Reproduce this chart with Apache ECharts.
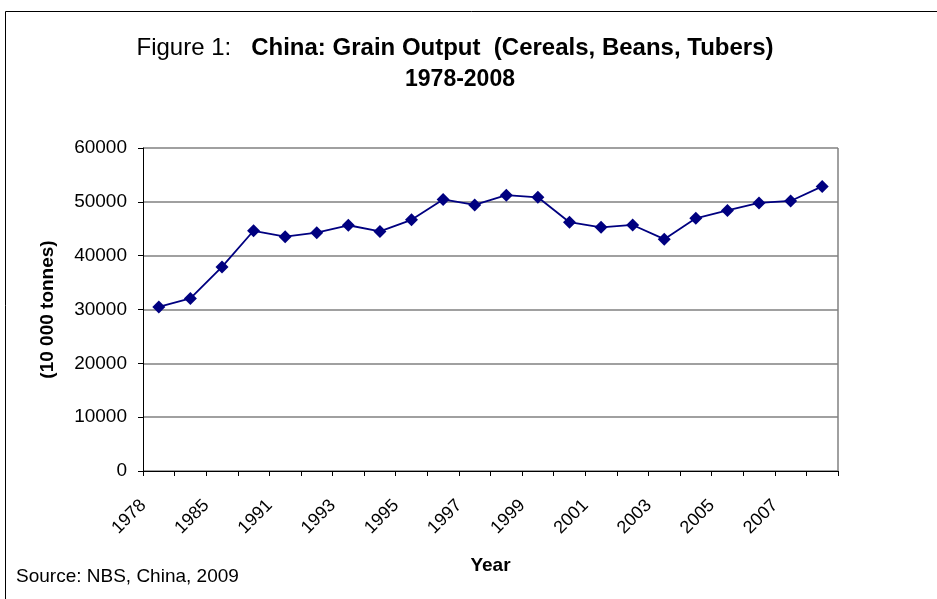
<!DOCTYPE html>
<html>
<head>
<meta charset="utf-8">
<script src="https://cdn.jsdelivr.net/npm/echarts@6/dist/echarts.min.js"></script>
<style>
  html, body { margin: 0; padding: 0; background: #fff; }
  #chart { width: 937px; height: 599px; }
</style>
</head>
<body>
<div id="chart"></div>
<script>
// years shown on the axis (every other one labelled)
var years = ['1978', '1980', '1985', '1990', '1991', '1992', '1993', '1994', '1995', '1996', '1997',
    '1998', '1999', '2000', '2001', '2002', '2003', '2004', '2005', '2006', '2007', '2008'];
// grain output, 10 000 tonnes
var output = [30477, 32056, 37911, 44624, 43529, 44266, 45649, 44510, 46662, 50454, 49417,
    51230, 50839, 46218, 45264, 45706, 43070, 46947, 48402, 49804, 50160, 52871];

var font = 'Liberation Sans, Arial, sans-serif';
var chart = echarts.init(document.getElementById('chart'));

var option = {
    backgroundColor: '#fff',
    animation: false,
    title: [{
        text: '{n|Figure 1:   }{b|China: Grain Output  (Cereals, Beans, Tubers)}',
        left: 450,
        top: 31,
        textAlign: 'center',
        textStyle: {
            fontWeight: 'normal',
            rich: {
                n: { fontFamily: font, fontSize: 24, fontWeight: 'normal', color: '#000' },
                b: { fontFamily: font, fontSize: 24, fontWeight: 'bold', color: '#000' }
            }
        }
    }, {
        text: '1978-2008',
        left: 455,
        top: 63,
        textAlign: 'center',
        textStyle: { fontFamily: font, fontSize: 23, fontWeight: 'bold', color: '#000' }
    }],
    grid: { left: 143, top: 148, right: 99, bottom: 128, containLabel: false },
    xAxis: {
        type: 'category',
        data: years,
        boundaryGap: true,
        name: 'Year',
        nameLocation: 'middle',
        nameGap: 85,
        nameTextStyle: { fontFamily: font, fontSize: 19, fontWeight: 'bold', color: '#000' },
        axisLine: { lineStyle: { color: '#000', width: 1 } },
        axisTick: { show: true, length: 5, interval: 0, lineStyle: { color: '#000' } },
        axisLabel: {
            interval: 1,
            rotate: 45,
            margin: 16,
            padding: [0, 22, 0, 0],
            fontFamily: font,
            fontSize: 18,
            color: '#000'
        },
        splitLine: { show: false }
    },
    yAxis: {
        type: 'value',
        min: 0,
        max: 60000,
        interval: 10000,
        name: '(10 000 tonnes)',
        nameLocation: 'middle',
        nameGap: 86,
        nameTextStyle: { fontFamily: font, fontSize: 19, fontWeight: 'bold', color: '#000' },
        axisLine: { show: true, lineStyle: { color: '#000', width: 1 } },
        axisTick: { show: true, length: 5, lineStyle: { color: '#000' } },
        axisLabel: {
            fontFamily: font,
            fontSize: 19,
            color: '#000',
            margin: 16,
            formatter: function (v) { return String(v); }
        },
        splitLine: { show: true, lineStyle: { color: '#808080', width: 1.5 } }
    },
    series: [{
        type: 'line',
        data: output,
        symbol: 'diamond',
        symbolSize: 13,
        lineStyle: { color: '#000080', width: 1.8 },
        itemStyle: { color: '#000080' }
    }],
    graphic: [{
        type: 'rect',
        shape: { x: 5.5, y: 11.5, width: 1000, height: 700 },
        style: { fill: 'none', stroke: '#000', lineWidth: 1 },
        silent: true
    }, {
        // right border of plot area
        type: 'line',
        shape: { x1: 838, y1: 148, x2: 838, y2: 471 },
        style: { stroke: '#808080', lineWidth: 1.5 },
        silent: true
    }, {
        type: 'text',
        left: 16,
        top: 567,
        style: { text: 'Source: NBS, China, 2009', fontFamily: font, fontSize: 19, fill: '#000' }
    }]
};

chart.setOption(option);
window.addEventListener('resize', function () {
    chart.resize();
});
</script>
</body>
</html>
